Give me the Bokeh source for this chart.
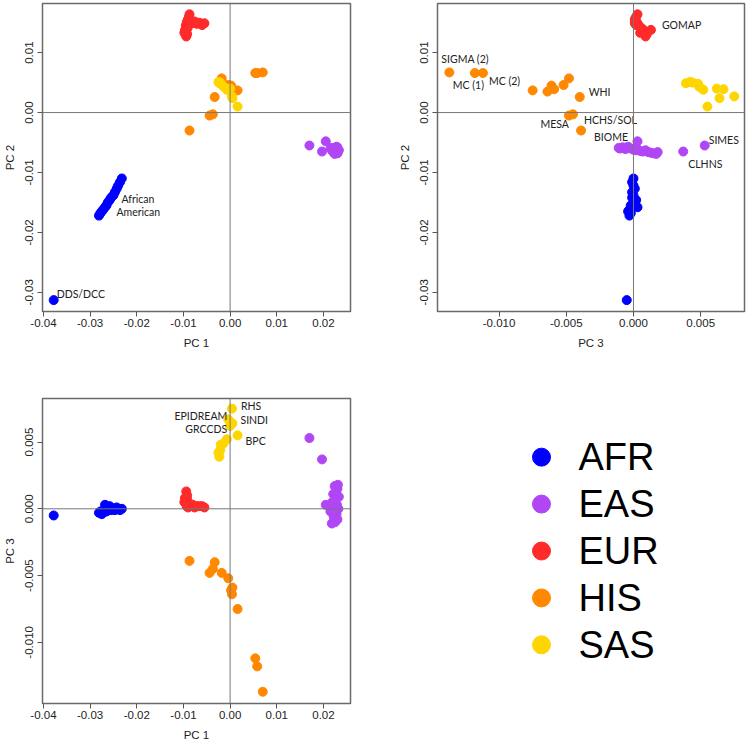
from bokeh.plotting import figure
from bokeh.models import Range1d, FixedTicker, NumeralTickFormatter, Span, ColumnDataSource, FactorRange
from bokeh.layouts import row, column
from bokeh.core.properties import value
from bokeh.embed import file_html
from bokeh.resources import INLINE

GROUPS = ["AFR", "EAS", "EUR", "HIS", "SAS"]
COLORS = ["#0000FF", "#B146F5", "#FF2B2B", "#FF8800", "#FFD500"]

# ---- principal components per population group (one entry per cohort) ----
AFR_PC1 = [-0.0281, -0.0278, -0.0275, -0.0272, -0.0268, -0.0265, -0.0262, -0.0258,
           -0.0255, -0.0250, -0.0247, -0.0243, -0.0240, -0.0236, -0.0232, -0.0378]
AFR_PC2 = [-0.0172, -0.0168, -0.0165, -0.0162, -0.0158, -0.0155, -0.0150, -0.0146,
           -0.0142, -0.0138, -0.0133, -0.0127, -0.0122, -0.0116, -0.0110, -0.0313]
AFR_PC3 = [-0.0003, -0.0002, -0.0004, -0.0003, 0.0003, -0.0002, 0.0001, 0.0002,
           -0.0001, 0.0000, -0.0001, 0.0001, 0.0000, -0.0001, 0.0000, -0.0005]

EAS_PC1 = [0.0218, 0.0225, 0.0230, 0.0222, 0.0228, 0.0215, 0.0232, 0.0205, 0.0224,
           0.0229, 0.0219, 0.0226, 0.0233, 0.0221, 0.0227, 0.0230, 0.0224, 0.0231,
           0.0170, 0.0197]
EAS_PC2 = [-0.0059, -0.0060, -0.0058, -0.0061, -0.0057, -0.0060, -0.0062, -0.0048, -0.0063,
           -0.0061, -0.0064, -0.0065, -0.0063, -0.0066, -0.0067, -0.0068, -0.0069, -0.0066,
           -0.0055, -0.0065]
EAS_PC3 = [-0.0011, -0.0010, -0.0008, -0.0006, -0.0004, -0.0002, 0.0000, 0.0003, 0.0002,
           0.0003, 0.0005, 0.0007, 0.0009, 0.0011, 0.0013, 0.0015, 0.0017, 0.0018,
           0.0053, 0.0037]

EUR_PC1 = [-0.0097, -0.0094, -0.0092, -0.0095, -0.0091, -0.0093, -0.0090, -0.0088, -0.0087,
           -0.0094, -0.0085, -0.0080, -0.0076, -0.0071, -0.0066, -0.0060, -0.0055, -0.0098]
EUR_PC2 = [0.0137, 0.0127, 0.0131, 0.0145, 0.0141, 0.0151, 0.0156, 0.0160, 0.0164,
           0.0138, 0.0152, 0.0149, 0.0152, 0.0148, 0.0150, 0.0146, 0.0149, 0.0133]
EUR_PC3 = [0.0008, 0.0009, 0.0010, 0.0004, 0.0006, 0.0002, 0.0001, 0.0002, 0.0003,
           0.0013, 0.0002, 0.0003, 0.0001, 0.0002, 0.0002, 0.0002, 0.0001, 0.0005]

HIS_PC1 = [0.0070, 0.0058, 0.0054, -0.0018, 0.0002, 0.0005, 0.0004, -0.0004, 0.0016,
           -0.0033, -0.0044, -0.0037, -0.0087]
HIS_PC2 = [0.0067, 0.0066, 0.0066, 0.0057, 0.0045, 0.0039, 0.0035, 0.0046, 0.0037,
           0.0026, -0.0005, -0.0003, -0.0030]
HIS_PC3 = [-0.0137, -0.0118, -0.0112, -0.0048, -0.0061, -0.0059, -0.0064, -0.0052, -0.0075,
           -0.0040, -0.0048, -0.0045, -0.0039]

SAS_PC1 = [0.0004, 0.0005, -0.0004, 0.0000, 0.0016, -0.0007, -0.0014, -0.0020, -0.0021,
           -0.0025, -0.0023]
SAS_PC2 = [0.0027, 0.0024, 0.0039, 0.0040, 0.0010, 0.0038, 0.0043, 0.0048, 0.0050,
           0.0051, 0.0049]
SAS_PC3 = [0.0075, 0.0064, 0.0067, 0.0062, 0.0055, 0.0052, 0.0049, 0.0048, 0.0044,
           0.0042, 0.0039]

# ---- axes ----
PC1_TICKS = [-0.04, -0.03, -0.02, -0.01, 0.0, 0.01, 0.02]
PC2_TICKS = [-0.03, -0.02, -0.01, 0.0, 0.01]
PC3_TICKS = [-0.010, -0.005, 0.0, 0.005]
PC1_RANGE = (-0.0402, 0.0258)
PC2_RANGE = (-0.0332, 0.0182)
PC3_RANGE = (-0.01458, 0.00826)

# ---- cohort labels: (text, group, point index, dx px, dy px, align) ----
P1_LABELS = [("African", "AFR", 9, 8, 4, "left"),
             ("American", "AFR", 9, 3, 17, "left"),
             ("DDS/DCC", "AFR", 15, 3, -6, "left")]
P2_LABELS = [("GOMAP", "EUR", 9, 11, -5, "left"),
             ("SIGMA (2)", "HIS", 0, -8, -13, "left"),
             ("MC (1)", "HIS", 1, -22, 12, "left"),
             ("MC (2)", "HIS", 2, 6, 8, "left"),
             ("WHI", "HIS", 9, 9, -5, "left"),
             ("MESA", "HIS", 10, 0, 8, "right"),
             ("HCHS/SOL", "HIS", 11, 11, 6, "left"),
             ("BIOME", "HIS", 12, 13, 6, "left"),
             ("SIMES", "EAS", 18, 4, -6, "left"),
             ("CLHNS", "EAS", 19, 5, 12, "left")]
P3_LABELS = [("RHS", "SAS", 0, 9, -3, "left"),
             ("SINDI", "SAS", 1, 8, -3, "left"),
             ("EPIDREAM", "SAS", 2, -1, -3, "right"),
             ("GRCCDS", "SAS", 3, -3, 3, "right"),
             ("BPC", "SAS", 4, 8, 6, "left")]

DATA = {
    "AFR": {"PC1": AFR_PC1, "PC2": AFR_PC2, "PC3": AFR_PC3},
    "EAS": {"PC1": EAS_PC1, "PC2": EAS_PC2, "PC3": EAS_PC3},
    "EUR": {"PC1": EUR_PC1, "PC2": EUR_PC2, "PC3": EUR_PC3},
    "HIS": {"PC1": HIS_PC1, "PC2": HIS_PC2, "PC3": HIS_PC3},
    "SAS": {"PC1": SAS_PC1, "PC2": SAS_PC2, "PC3": SAS_PC3},
}

AXIS_FONT = "Liberation Sans"
LABEL_FONT = "Lato"


def panel(xk, yk, xr, yr, xt, yt, xf, yf, labels, w, h, bl, br, bt, bb):
    p = figure(width=w, height=h, x_range=Range1d(*xr), y_range=Range1d(*yr),
               output_backend="svg", toolbar_location=None,
               min_border_left=bl, min_border_right=br, min_border_top=bt, min_border_bottom=bb,
               background_fill_color="white", border_fill_color="white")
    p.grid.visible = False
    p.outline_line_color = "#6a6a6a"
    p.outline_line_width = 1.5
    for loc, dim in ((0, "height"), (0, "width")):
        p.add_layout(Span(location=loc, dimension=dim, line_color="#777777", line_width=1))
    for g, c in zip(GROUPS, COLORS):
        p.scatter(DATA[g][xk], DATA[g][yk], size=9, fill_color=c, line_color=c)
    for align in ("left", "right"):
        rows = [l for l in labels if l[5] == align]
        if not rows:
            continue
        src = ColumnDataSource(dict(
            x=[DATA[l[1]][xk][l[2]] for l in rows],
            y=[DATA[l[1]][yk][l[2]] for l in rows],
            t=[l[0] for l in rows],
            dx=[l[3] for l in rows],
            dy=[l[4] for l in rows]))
        p.text(x="x", y="y", text="t", x_offset="dx", y_offset="dy", source=src,
               text_font=value(LABEL_FONT), text_font_size="10.5px", text_color="#222222",
               text_align=align, text_baseline="middle")
    p.xaxis.ticker = FixedTicker(ticks=xt)
    p.yaxis.ticker = FixedTicker(ticks=yt)
    p.xaxis.formatter = NumeralTickFormatter(format=xf)
    p.yaxis.formatter = NumeralTickFormatter(format=yf)
    p.xaxis.axis_label = xk.replace("PC", "PC ")
    p.yaxis.axis_label = yk.replace("PC", "PC ")
    p.yaxis.major_label_orientation = "vertical"
    for ax in (p.xaxis[0], p.yaxis[0]):
        ax.axis_line_color = None
        ax.major_tick_line_color = "#555555"
        ax.major_tick_out = 5
        ax.major_tick_in = 0
        ax.minor_tick_line_color = None
        ax.major_label_text_font = AXIS_FONT
        ax.major_label_text_font_size = "11.5px"
        ax.major_label_text_color = "#222222"
        ax.axis_label_text_font = AXIS_FONT
        ax.axis_label_text_font_size = "11.5px"
        ax.axis_label_text_font_style = "normal"
        ax.axis_label_text_color = "#222222"
        ax.axis_label_standoff = 7
    p.xaxis.major_label_standoff = 2
    p.yaxis.major_label_standoff = 4
    return p


p1 = panel("PC1", "PC2", PC1_RANGE, PC2_RANGE, PC1_TICKS, PC2_TICKS, "0.00", "0.00",
           P1_LABELS, 395, 359, 42, 45, 3, 48)
p2 = panel("PC3", "PC2", PC3_RANGE, PC2_RANGE, PC3_TICKS, PC2_TICKS, "0.000", "0.00",
           P2_LABELS, 355, 359, 42, 6, 3, 48)
p3 = panel("PC1", "PC3", PC1_RANGE, PC3_RANGE, PC1_TICKS, PC3_TICKS, "0.00", "0.000",
           P3_LABELS, 395, 384, 42, 45, 39, 38)

# ---- legend panel ----
pl = figure(width=355, height=384, x_range=Range1d(-20, 209),
            y_range=FactorRange(factors=GROUPS[::-1], range_padding=0.75, range_padding_units="absolute"),
            output_backend="svg", toolbar_location=None, x_axis_location=None, y_axis_location=None,
            min_border_left=126, min_border_right=0, min_border_top=39, min_border_bottom=38,
            background_fill_color="white", border_fill_color="white")
pl.grid.visible = False
pl.outline_line_color = None
leg = ColumnDataSource(dict(x=[0] * len(GROUPS), g=GROUPS, c=COLORS))
pl.scatter(x="x", y="g", size=18, fill_color="c", line_color="c", source=leg)
pl.text(x="x", y="g", text="g", source=leg, x_offset=37, text_baseline="middle",
        text_font=value(AXIS_FONT), text_font_size="38px", text_color="black")

layout = column(row(p1, p2), row(p3, pl))
open("out.html", "w").write(file_html(layout, INLINE))
